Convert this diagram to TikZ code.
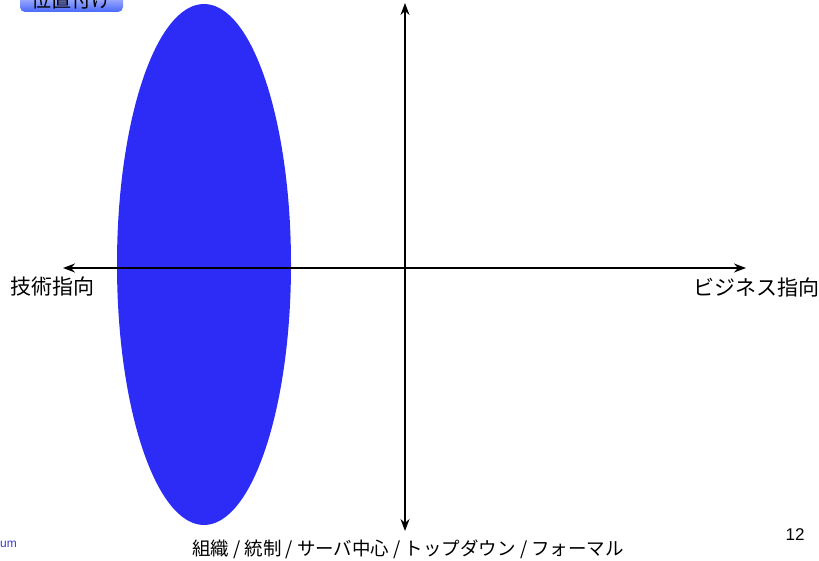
\documentclass[tikz,border=0pt]{standalone}
\usepackage{fontspec}
\setmainfont{Liberation Sans}
\newfontfamily\cjk{Noto Sans CJK JP}
\usetikzlibrary{positioning,arrows.meta,shapes.geometric}
\definecolor{ovalblue}{RGB}{44,44,246}
\definecolor{tagblue}{RGB}{72,104,250}
\definecolor{footblue}{RGB}{60,60,210}

\begin{document}
\begin{tikzpicture}[x=1pt,y=-1pt,
  axis/.style={line width=1.6pt,{Stealth[length=12pt,width=9pt]}-{Stealth[length=12pt,width=9pt]}},
  oval/.style={draw=none,ellipse,fill=ovalblue,minimum width=174pt,minimum height=521pt,inner sep=0pt},
  tag/.style={rounded corners=5pt,top color=blue!12!white,bottom color=tagblue,minimum width=103pt,minimum height=24pt,inner sep=0pt},
  label/.style={font=\cjk\fontsize{21}{23}\selectfont,inner sep=0pt},
  every node/.append style={align=center}
]
  \useasboundingbox (0,0) rectangle (819,561);
  \node[tag] (tag) at (71.5,0) {\cjk\fontsize{20}{22}\selectfont 位置付け};
  \node[oval] (oval) at (204,264.5) {};
  \coordinate (west) at (63,268);
  \coordinate (east) at (746,268);
  \coordinate (north) at (405,3);
  \coordinate (south) at (405,531);
  \draw[axis] (west) -- (east);
  \draw[axis] (north) -- (south);
  \node[label] (tech) at (52,287) {技術指向};
  \node[label] (biz) at (756,287) {ビジネス指向};
  \node[label,font=\cjk\fontsize{18.5}{20}\selectfont] (org) at (408,549) {組織 / 統制 / サーバ中心 / トップダウン / フォーマル};
  \node[font=\fontsize{17}{19}\selectfont,inner sep=0pt] (page) at (795,535) {12};
  \node[font=\fontsize{12}{14}\selectfont,text=footblue,inner sep=0pt,anchor=west] (forum) at (0,544) {um};
\end{tikzpicture}
\end{document}
